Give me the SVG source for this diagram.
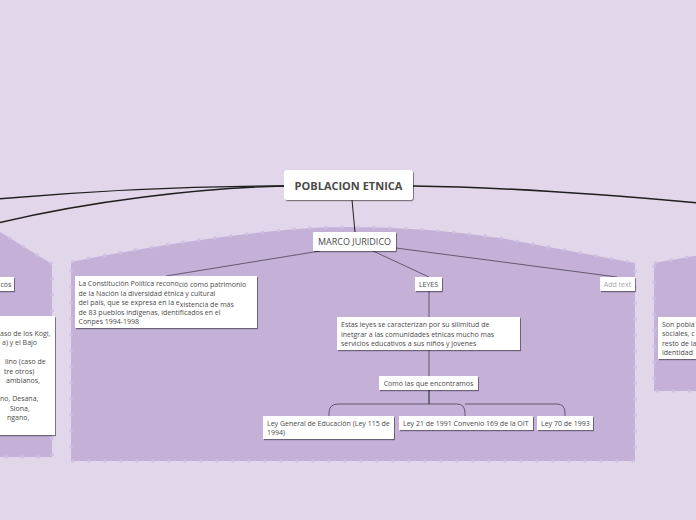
<svg xmlns="http://www.w3.org/2000/svg" width="696" height="520" viewBox="0 0 696 520">
<defs>
<filter id="sh" x="-5%" y="-5%" width="115%" height="130%">
<feDropShadow dx="1" dy="1.2" stdDeviation="0.4" flood-color="#000" flood-opacity="0.45"/>
</filter>
</defs>
<style>
.bnd{fill:#c5b0d8;stroke:#d0c0e1;stroke-width:3;stroke-dasharray:3 13}
.node{fill:#ffffff;filter:url(#sh)}
.t{font-family:"Open Sans","DejaVu Sans",sans-serif;font-size:7px;fill:#4a4a4a}
.main{font-family:"Open Sans","DejaVu Sans",sans-serif;font-size:11px;font-weight:bold;fill:#4a4a4a}
.mj{font-family:"Open Sans","DejaVu Sans",sans-serif;font-size:9px;fill:#4a4a4a}
.thick{fill:none;stroke:#1e1e1e;stroke-width:1.4}
.thin{fill:none;stroke:#4a4250;stroke-width:0.8}
</style>
<rect width="696" height="520" fill="#e1d6ea"/>
<g id="boundaries">
<path class="bnd" d="M-5,229 L52,264 L52,457 L-5,457 Z"/>
<path class="bnd" d="M71,262 Q200,236 310,228 Q400,224 500,238 L635,263 L635,461 L71,461 Z"/>
<path class="bnd" d="M654,263 L700,255 L700,391 L654,391 Z"/>
</g>
<g id="connectors">
<path class="thick" d="M284,186 C200,186 90,191 -2,199"/>
<path class="thick" d="M284,186 C200,188 90,201 -2,223"/>
<path class="thick" d="M413,186 C500,187 600,194 698,203"/>
<path class="thin" style="stroke:#1e1e1e;stroke-width:1" d="M352,200 L355,232"/>
<path class="thin" d="M320,251 L166,276"/>
<path class="thin" d="M373,251 L429,277"/>
<path class="thin" d="M396,248 L617,277"/>
<path class="thin" d="M429,291 L429,317"/>
<path class="thin" d="M429,350 L429,376"/>
<path class="thin" style="stroke:#1e1e1e;stroke-width:1" d="M429,390 L429,404"/>
<path class="thin" d="M429,404 L338,404 Q329,404 329,413 L329,416"/>
<path class="thin" d="M429,404 L457,404 Q465,404 465,413 L465,416"/>
<path class="thin" d="M465,404 L557,404 Q565,404 565,413 L565,416"/>
</g>
<g id="node-main">
<rect class="node" x="284" y="170" width="129" height="30" rx="3"/>
<text class="main" x="348.5" y="190" text-anchor="middle">POBLACION ETNICA</text>
</g>
<g id="node-marco">
<rect class="node" x="313" y="232" width="83" height="19" rx="1"/>
<text class="mj" x="354.5" y="245" text-anchor="middle">MARCO JURIDICO</text>
</g>
<g id="node-left-small">
<rect class="node" x="-5" y="277" width="19" height="14"/>
<text class="t" x="0.5" y="286.5">cos</text>
</g>
<g id="node-left-big">
<rect class="node" x="-5" y="316" width="60" height="119"/>
<text class="t" x="0" y="336">aso de los Kogi,</text>
<text class="t" x="2" y="345">a) y el Bajo</text>
<text class="t" x="5" y="364">lino (caso de</text>
<text class="t" x="4" y="374">tre otros)</text>
<text class="t" x="6" y="383">ambianos,</text>
<text class="t" x="0" y="401">no, Desana,</text>
<text class="t" x="10" y="411">Siona,</text>
<text class="t" x="7" y="420">ngano,</text>
</g>
<g id="node-constitucion">
<rect class="node" x="75" y="276" width="182" height="52"/>
<text class="t" x="78.5" y="286">La Constitución Política recono<tspan dy="1">ció como patrimonio</tspan></text>
<text class="t" x="78.5" y="296">de la Nación la diversidad étnica y cultural</text>
<text class="t" x="78.5" y="305">del país, que se expresa en la e<tspan dy="1.5">xistencia de más</tspan></text>
<text class="t" x="78.5" y="315">de 83 pueblos indígenas, identificados en el</text>
<text class="t" x="78.5" y="324">Conpes 1994-1998</text>
</g>
<g id="node-leyes">
<rect class="node" x="415" y="277" width="27" height="14"/>
<text class="t" x="428.5" y="287" text-anchor="middle">LEYES</text>
</g>
<g id="node-addtext">
<rect class="node" x="600" y="277" width="35" height="14"/>
<text class="t" x="617.5" y="287" text-anchor="middle" style="fill:#a8a8a8">Add text</text>
</g>
<g id="node-estas">
<rect class="node" x="337" y="317" width="183" height="33"/>
<text class="t" x="341" y="327">Estas leyes se caracterizan por su silimitud de</text>
<text class="t" x="341" y="336.5">inetgrar a las comunidades etnicas mucho mas</text>
<text class="t" x="341" y="346">servicios educativos  a sus niños y jovenes</text>
</g>
<g id="node-como">
<rect class="node" x="379" y="376" width="99" height="14"/>
<text class="t" x="428.5" y="386" text-anchor="middle">Como las que encontramos</text>
</g>
<g id="node-ley115">
<rect class="node" x="263" y="416" width="131" height="23"/>
<text class="t" x="267" y="426">Ley General de Educación (Ley 115 de</text>
<text class="t" x="267" y="435">1994)</text>
</g>
<g id="node-ley21">
<rect class="node" x="399" y="416" width="134" height="14"/>
<text class="t" x="403" y="426">Ley 21 de 1991 Convenio 169 de la OIT</text>
</g>
<g id="node-ley70">
<rect class="node" x="537" y="416" width="56" height="14"/>
<text class="t" x="541" y="426">Ley 70 de 1993</text>
</g>
<g id="node-right">
<rect class="node" x="658" y="317" width="45" height="42"/>
<text class="t" x="662" y="327">Son pobla</text>
<text class="t" x="662" y="336">sociales, c</text>
<text class="t" x="662" y="346">resto de la</text>
<text class="t" x="662" y="355">identidad</text>
</g>
</svg>
